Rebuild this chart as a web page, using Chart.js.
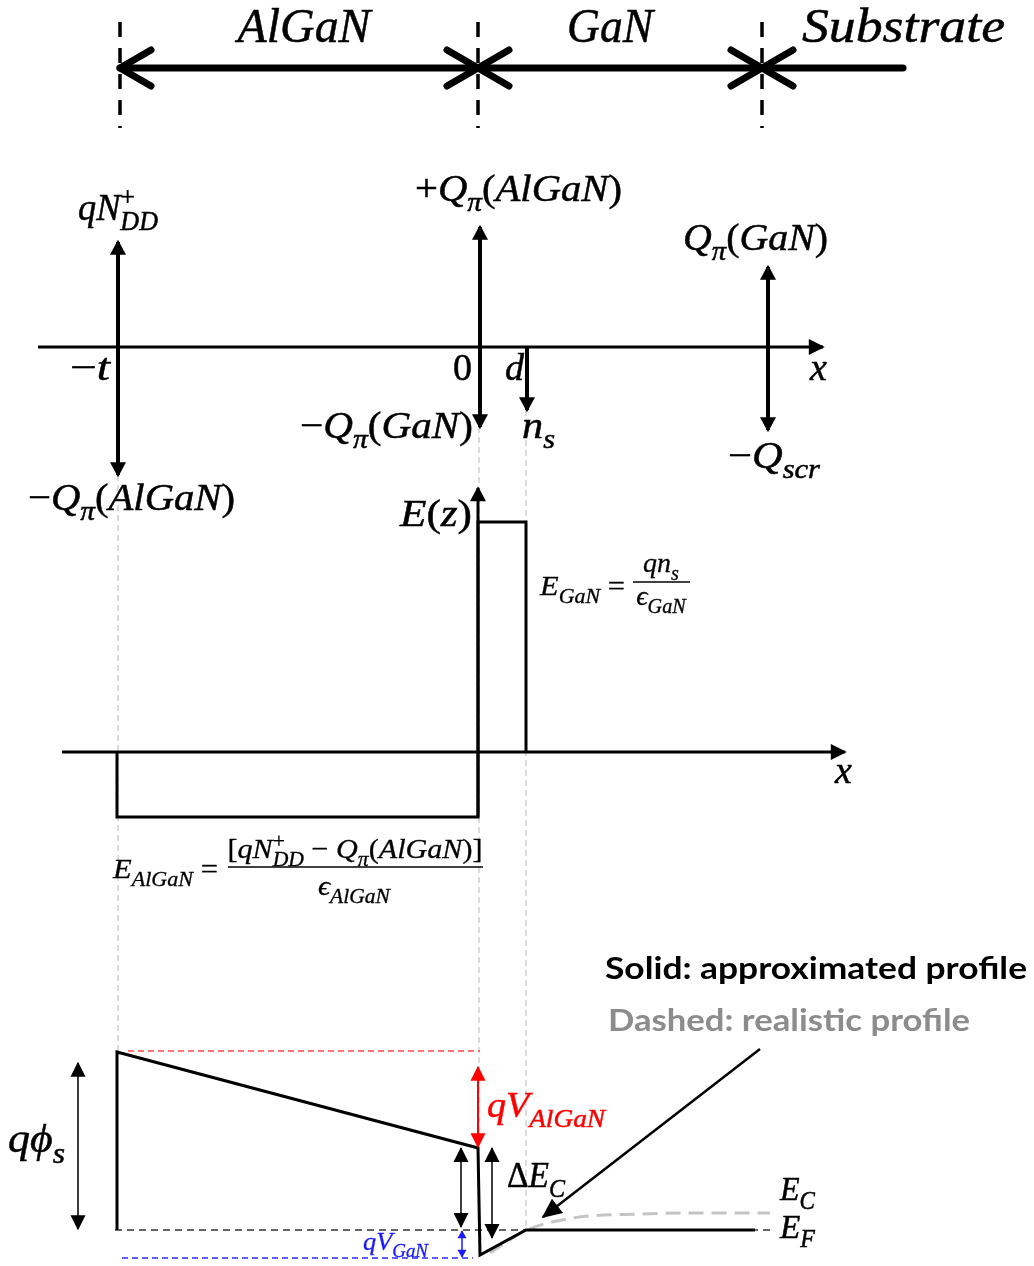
<!DOCTYPE html>
<html>
<head>
<meta charset="utf-8">
<script src="https://cdn.jsdelivr.net/npm/chart.js@4.4.1/dist/chart.umd.min.js"></script>
<style>
  html, body { margin: 0; padding: 0; background: #fff; }
  canvas { display: block; }
</style>
</head>
<body>
<canvas id="diagram" width="1034" height="1266"></canvas>
<script>
/* the figure uses its own units: 1 unit = 1 px of the 1034 x 1266 picture */

/* Layer strip */
const layerNames = ["AlGaN", "GaN", "Substrate"];
const layerEdgeX = [120, 478, 762];
const layerEndX = 903;
const layerRowY = 68;
const layerMarkY = [22, 128];

/* Charge sheets */
const chargeAxisY = 347;
const chargeAxisX = [38, 823];
const sheetX = [118, 480, 527, 768];
const sheetUpY = [242, 227, null, 267];
const sheetDownY = [475, 427, 410, 430];

/* Electric field */
const fieldAxisY = 752;
const fieldAxisX = [62, 845];
const fieldAxisY0 = [817, 488];
const fieldX = [117, 117, 478, 478, 526, 526];
const fieldY = [752, 817, 817, 522, 522, 752];

/* Band diagram */
const bandX = [117, 117, 478, 480, 526, 755];
const bandY = [1230, 1052, 1148, 1255, 1230, 1230];
const realisticX = [490, 527, 573, 640, 700, 770];
const realisticY = [1253, 1230, 1218, 1214, 1213, 1213];
const fermiY = 1230;
const fermiX = [115, 773];
const surfaceY = 1051;
const surfaceX = [128, 480];
const wellY = 1258;
const wellX = [122, 473];

/* Dimension arrows in the band diagram: qphi_s, qV_AlGaN, two dEc, qV_GaN */
const dimX = [78, 478, 461, 492, 462];
const dimTopY = [1063, 1067, 1148, 1148, 1231];
const dimBotY = [1229, 1147, 1227, 1238, 1257];
const dimColors = ["#3c3c3c", "#ff0000", "#000000", "#000000", "#1a1aff"];

/* Pointer from the legend note */
const pointerX = [760, 543];
const pointerY = [1049, 1217];

/* Thin grey guides dropping through the panels */
const guideX = [118, 479, 526];
const guideFromY = [475, 427, 410];
const guideToY = [1052, 1148, 1230];

/* Labels (tex-like: _{sub}, ^{sup}) */
const mathLabels = [
  { tex: "AlGaN", x: 304, y: 42, size: 48, align: "center", w: 133 },
  { tex: "GaN", x: 610, y: 42, size: 48, align: "center", w: 86 },
  { tex: "Substrate", x: 802, y: 42, size: 48, w: 203 },

  { tex: "qN^{+}_{DD}", x: 78, y: 220, size: 38, w: 80 },
  { tex: "−t", x: 70, y: 380, size: 38, w: 40 },
  { tex: "0", x: 453, y: 380, size: 38 },
  { tex: "d", x: 505, y: 380, size: 38 },
  { tex: "x", x: 810, y: 380, size: 38 },
  { tex: "+Q_{π}(AlGaN)", x: 415, y: 201, size: 38, w: 207 },
  { tex: "−Q_{π}(GaN)", x: 300, y: 438, size: 38, w: 173 },
  { tex: "n_{s}", x: 522, y: 438, size: 38, w: 33 },
  { tex: "Q_{π}(GaN)", x: 683, y: 250, size: 38, w: 145 },
  { tex: "−Q_{scr}", x: 728, y: 468, size: 38, w: 92 },
  { tex: "−Q_{π}(AlGaN)", x: 28, y: 510, size: 38, w: 207 },

  { tex: "E(z)", x: 400, y: 526, size: 38, w: 72 },
  { tex: "x", x: 835, y: 783, size: 38 },
  { tex: "E_{GaN} =", x: 540, y: 595, size: 28, w: 85 },
  { tex: "qn_{s}", x: 661, y: 572, size: 28, align: "center" },
  { tex: "ϵ_{GaN}", x: 661, y: 605, size: 28, align: "center" },
  { tex: "E_{AlGaN} =", x: 113, y: 878, size: 28, w: 105 },
  { tex: "[qN^{+}_{DD} − Q_{π}(AlGaN)]", x: 355, y: 858, size: 28, align: "center", w: 255 },
  { tex: "ϵ_{AlGaN}", x: 354, y: 895, size: 28, align: "center", w: 72 },

  { tex: "qϕ_{s}", x: 8, y: 1152, size: 40, w: 57 },
  { tex: "qV_{AlGaN}", x: 487, y: 1117, size: 36, w: 118, color: "#ff0000" },
  { tex: "ΔE_{C}", x: 507, y: 1187, size: 36, w: 58 },
  { tex: "qV_{GaN}", x: 363, y: 1250, size: 26, w: 65, color: "#1a1aff" },
  { tex: "E_{C}", x: 780, y: 1200, size: 34, w: 35 },
  { tex: "E_{F}", x: 780, y: 1238, size: 34, w: 35 }
];

const fractionBars = [
  { x: [633, 690], y: 582 },
  { x: [228, 483], y: 867 }
];

const noteTexts = ["Solid: approximated profile", "Dashed: realistic profile"];
const noteX = [605, 608];
const noteY = [979, 1031];
const noteW = [422, 362];
const noteColors = ["#000000", "#8c8c8c"];

/* ---------- datasets ---------- */

function seg(xs, ys, style) {
  return Object.assign({
    data: xs.map((x, i) => ({ x: x, y: ys[i] })),
    showLine: true,
    pointRadius: 0,
    pointHoverRadius: 0,
    borderColor: "#000",
    borderWidth: 3,
    fill: false,
    clip: false,
    tension: 0,
    order: 0
  }, style);
}

const datasets = [];

// layer strip: dashed marks and chevron arrows
layerEdgeX.forEach(x => {
  datasets.push(seg([x, x], layerMarkY, { borderWidth: 3.5, borderDash: [15, 11] }));
});
const chevron = { borderWidth: 7, borderCapStyle: "round", headOpen: true, headLen: 31, headHalf: 18 };
datasets.push(seg([layerEdgeX[0], layerEdgeX[1]], [layerRowY, layerRowY], Object.assign({ heads: "both" }, chevron)));
datasets.push(seg([layerEdgeX[1], layerEdgeX[2]], [layerRowY, layerRowY], Object.assign({ heads: "both" }, chevron)));
datasets.push(seg([layerEndX, layerEdgeX[2]], [layerRowY, layerRowY], Object.assign({ heads: "end" }, chevron)));

// charge panel
datasets.push(seg(chargeAxisX, [chargeAxisY, chargeAxisY], { heads: "end", headLen: 16, headHalf: 8 }));
sheetX.forEach((x, i) => {
  const sheet = { borderWidth: 4, heads: "end", headLen: 15, headHalf: 8 };
  if (sheetUpY[i] !== null) datasets.push(seg([x, x], [chargeAxisY, sheetUpY[i]], sheet));
  datasets.push(seg([x, x], [chargeAxisY, sheetDownY[i]], sheet));
});

// field panel
datasets.push(seg(fieldAxisX, [fieldAxisY, fieldAxisY], { heads: "end", headLen: 16, headHalf: 8 }));
datasets.push(seg([478, 478], fieldAxisY0, { heads: "end", headLen: 15, headHalf: 8 }));
datasets.push(seg(fieldX, fieldY, { borderWidth: 3 }));

// band panel
datasets.push(seg(bandX, bandY, { borderWidth: 3 }));
datasets.push(seg(realisticX, realisticY, {
  borderColor: "#c4c4c4", borderWidth: 3, borderDash: [15, 8], cubicInterpolationMode: "monotone", order: 4
}));
datasets.push(seg(fermiX, [fermiY, fermiY], { borderColor: "#333", borderWidth: 1.5, borderDash: [7, 5], order: 3 }));
datasets.push(seg(surfaceX, [surfaceY, surfaceY], { borderColor: "#ff4a4a", borderWidth: 1.5, borderDash: [6, 4], order: 3 }));
datasets.push(seg(wellX, [wellY, wellY], { borderColor: "#2b2bff", borderWidth: 1.5, borderDash: [6, 4], order: 3 }));

dimX.forEach((x, i) => {
  const small = i === 4;
  datasets.push(seg([x, x], [dimTopY[i], dimBotY[i]], {
    borderColor: dimColors[i],
    borderWidth: i === 0 || i === 1 ? 2 : 1.5,
    heads: "both",
    headLen: small ? 8 : 15,
    headHalf: small ? 4.5 : 7.5,
    headColor: i === 0 ? "#000" : dimColors[i]
  }));
});

datasets.push(seg(pointerX, pointerY, { borderWidth: 2.5, heads: "end", headLen: 20, headHalf: 9 }));

// guides
guideX.forEach((x, i) => {
  datasets.push(seg([x, x], [guideFromY[i], guideToY[i]], {
    borderColor: "#c8c8c8", borderWidth: 1.3, borderDash: [6, 4], order: 5
  }));
});

/* ---------- drawing helpers ---------- */

function drawHead(ctx, from, tip, ds) {
  const dx = tip.x - from.x, dy = tip.y - from.y;
  const d = Math.hypot(dx, dy) || 1;
  const ux = dx / d, uy = dy / d;
  const len = ds.headLen, hw = ds.headHalf;
  ctx.save();
  if (ds.headOpen) {
    const bx = tip.x - ux * len, by = tip.y - uy * len;
    ctx.strokeStyle = ds.borderColor;
    ctx.lineWidth = ds.borderWidth;
    ctx.lineCap = "round";
    ctx.lineJoin = "round";
    ctx.beginPath();
    ctx.moveTo(bx - uy * hw, by + ux * hw);
    ctx.lineTo(tip.x, tip.y);
    ctx.lineTo(bx + uy * hw, by - ux * hw);
    ctx.stroke();
  } else {
    const ext = (ds.borderWidth / 2) * len / hw * 0.6;
    const tx = tip.x + ux * ext, ty = tip.y + uy * ext;
    const bx = tx - ux * len, by = ty - uy * len;
    ctx.fillStyle = ds.headColor || ds.borderColor;
    ctx.beginPath();
    ctx.moveTo(tx, ty);
    ctx.lineTo(bx - uy * hw, by + ux * hw);
    ctx.lineTo(bx + uy * hw, by - ux * hw);
    ctx.closePath();
    ctx.fill();
  }
  ctx.restore();
}

const arrowHeads = {
  id: "arrowHeads",
  afterDatasetsDraw(chart) {
    const ctx = chart.ctx;
    chart.data.datasets.forEach((ds, i) => {
      if (!ds.heads) return;
      const pts = chart.getDatasetMeta(i).data;
      const n = pts.length;
      if (ds.heads !== "end") drawHead(ctx, pts[1], pts[0], ds);
      if (ds.heads !== "start") drawHead(ctx, pts[n - 2], pts[n - 1], ds);
    });
  }
};

function mathFont(size, italic) {
  return (italic ? "italic " : "") + size + "px 'Liberation Serif', 'DejaVu Serif', serif";
}

function parseTex(str) {
  const runs = [];
  let i = 0;
  while (i < str.length) {
    const c = str[i];
    if ((c === "_" || c === "^") && str[i + 1] === "{") {
      const end = str.indexOf("}", i);
      runs.push({ text: str.slice(i + 2, end), level: c === "_" ? "sub" : "sup" });
      i = end + 1;
    } else {
      let j = i;
      while (j < str.length && !((str[j] === "_" || str[j] === "^") && str[j + 1] === "{")) j++;
      runs.push({ text: str.slice(i, j), level: "base" });
      i = j;
    }
  }
  return runs;
}

function layoutTex(ctx, str, size) {
  const glyphs = [];
  let x = 0, prev = null, prevStart = 0;
  parseTex(str).forEach(r => {
    const s = r.level === "base" ? size : size * 0.72;
    const dy = r.level === "sub" ? size * 0.27 : r.level === "sup" ? -size * 0.36 : 0;
    let start = x;
    if (r.level === "sub" && prev === "sup") start = prevStart;
    let cx = start;
    for (const ch of r.text) {
      const italic = /[A-Za-zα-ωϕϵ]/.test(ch);
      ctx.font = mathFont(s, italic);
      glyphs.push({ ch: ch, x: cx, dy: dy, size: s, italic: italic });
      cx += ctx.measureText(ch).width;
    }
    prevStart = start;
    prev = r.level;
    x = Math.max(x, cx);
  });
  return { glyphs: glyphs, width: x };
}

const labelLayer = {
  id: "labelLayer",
  afterDraw(chart) {
    const ctx = chart.ctx;
    const sx = chart.scales.x, sy = chart.scales.y;

    mathLabels.forEach(lb => {
      const lay = layoutTex(ctx, lb.tex, lb.size);
      const k = lb.w ? lb.w / lay.width : 1;
      const w = lay.width * k;
      let px = sx.getPixelForValue(lb.x);
      if (lb.align === "center") px -= w / 2;
      const py = sy.getPixelForValue(lb.y);
      ctx.save();
      ctx.translate(px, py);
      ctx.scale(k, 1);
      ctx.fillStyle = lb.color || "#000";
      ctx.strokeStyle = lb.color || "#000";
      ctx.lineWidth = lb.size > 30 ? 0.5 : 0.3;
      ctx.textBaseline = "alphabetic";
      lay.glyphs.forEach(g => {
        ctx.font = mathFont(g.size, g.italic);
        ctx.fillText(g.ch, g.x, g.dy);
        ctx.strokeText(g.ch, g.x, g.dy);
      });
      ctx.restore();
    });

    ctx.save();
    ctx.strokeStyle = "#000";
    ctx.lineWidth = 1.5;
    fractionBars.forEach(b => {
      const y = sy.getPixelForValue(b.y);
      ctx.beginPath();
      ctx.moveTo(sx.getPixelForValue(b.x[0]), y);
      ctx.lineTo(sx.getPixelForValue(b.x[1]), y);
      ctx.stroke();
    });
    ctx.restore();

    noteTexts.forEach((t, i) => {
      ctx.save();
      ctx.font = "bold 31px Lato, 'Open Sans', sans-serif";
      const k = noteW[i] / ctx.measureText(t).width;
      ctx.translate(sx.getPixelForValue(noteX[i]), sy.getPixelForValue(noteY[i]));
      ctx.scale(k, 1);
      ctx.fillStyle = noteColors[i];
      ctx.textBaseline = "alphabetic";
      ctx.fillText(t, 0, 0);
      ctx.restore();
    });
  }
};

/* ---------- chart ---------- */

new Chart(document.getElementById("diagram"), {
  type: "scatter",
  data: { datasets: datasets },
  options: {
    responsive: false,
    animation: false,
    devicePixelRatio: 1,
    events: [],
    layout: { padding: 0 },
    scales: {
      x: { type: "linear", min: 0, max: 1034, display: false },
      y: { type: "linear", min: 0, max: 1266, reverse: true, display: false }
    },
    plugins: {
      legend: { display: false },
      tooltip: { enabled: false }
    }
  },
  plugins: [arrowHeads, labelLayer]
});
</script>
</body>
</html>
